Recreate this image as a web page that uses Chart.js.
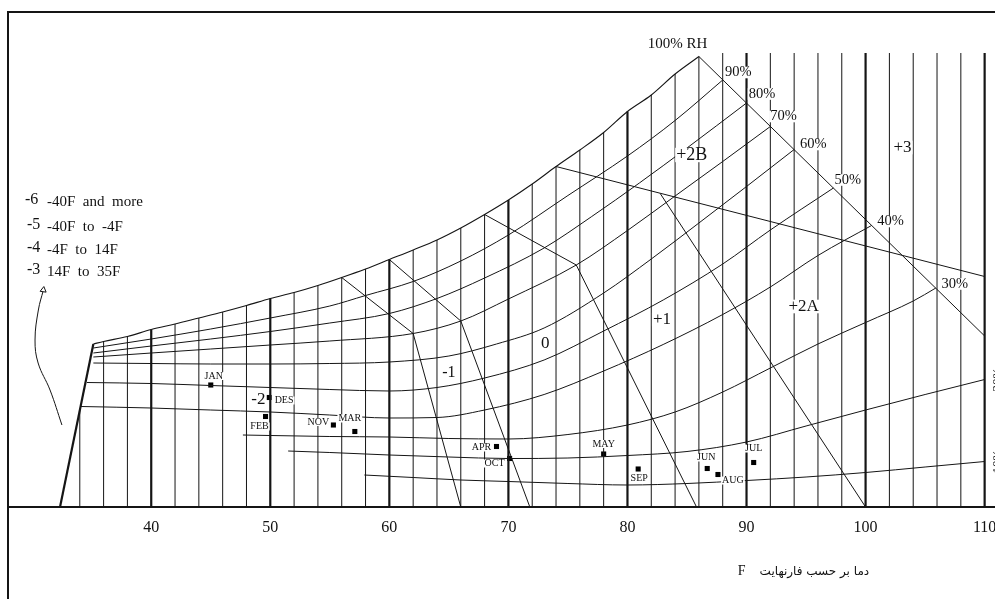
<!DOCTYPE html>
<html>
<head>
<meta charset="utf-8">
<script src="https://cdn.jsdelivr.net/npm/chart.js@4.4.1/dist/chart.umd.min.js"></script>
<style>
    html, body { margin: 0; padding: 0; background: #fff; overflow: hidden; }
    #wrap { width: 995px; height: 599px; overflow: hidden; }
</style>
</head>
<body>
<div id="wrap"><canvas id="bioChart" width="1020" height="599"></canvas></div>
<script>
// x = dry bulb temperature (F), y = moisture height in chart units
const tickTemps = [40, 50, 60, 70, 80, 90, 100, 110];

const gridTemps = [34, 36, 38, 40, 42, 44, 46, 48, 50, 52, 54, 56, 58, 60, 62, 64, 66, 68, 70,
    72, 74, 76, 78, 80, 82, 84, 86, 88, 90, 92, 94, 96, 98, 100, 102, 104, 106, 108, 110];
const gridTops = [19.3, 33.1, 34.1, 35.5, 36.6, 37.8, 39.0, 40.3, 41.7, 42.9, 44.3, 45.9, 47.6, 49.5,
    51.4, 53.4, 55.8, 58.5, 61.4, 64.6, 68.1, 71.4, 74.9, 79.1, 82.4, 86.6, 90.1,
    90.8, 90.8, 90.8, 90.8, 90.8, 90.8, 90.8, 90.8, 90.8, 90.8, 90.8, 90.8];

const rh100 = [[35.14, 32.6], [36, 33.1], [38, 34.1], [40, 35.5], [42, 36.6], [44, 37.8], [46, 39.0],
    [48, 40.3], [50, 41.7], [52, 42.9], [54, 44.3], [56, 45.9], [58, 47.6], [60, 49.5], [62, 51.4],
    [64, 53.4], [66, 55.8], [68, 58.5], [70, 61.4], [72, 64.6], [74, 68.1], [76, 71.4], [78, 74.9],
    [80, 79.1], [82, 82.4], [84, 86.6], [86, 90.1]];
const rh90 = [[35.14, 31.8], [40, 33.6], [45, 35.6], [50, 37.8], [55, 40.2], [58, 42.3], [62, 45.1],
    [66, 49.2], [70, 54.4], [75, 62.3], [80, 70.2], [84, 77.3], [88, 85.4]];
const rh80 = [[35.14, 30.8], [40, 32.2], [45, 33.6], [50, 35.1], [55, 36.8], [60, 38.7], [64, 41.7],
    [68, 45.8], [73, 51.8], [77, 58.1], [81, 64.8], [85, 71.8], [90, 80.8]];
const rh70 = [[35.14, 30.0], [40, 30.8], [45, 31.6], [50, 32.4], [55, 33.2], [62, 34.7], [66, 37.2],
    [70, 41.6], [75.7, 48.4], [80, 55.3], [84, 62.2], [88, 69.1], [92, 76.1]];
const rh60 = [[35.14, 28.8], [40, 28.7], [45, 28.6], [50, 28.6], [55, 28.7], [60, 29], [65, 30.2],
    [69, 32.6], [73, 35.8], [78, 42.8], [82, 49.6], [86, 56.8], [90, 64.1], [94, 71.5]];
const rh50 = [[34.6, 24.9], [40, 24.7], [45, 24.3], [50, 23.9], [55, 23.5], [60, 23.2], [64, 23.9],
    [68, 25.8], [73, 29.4], [78, 35.2], [83, 41.4], [88, 48.6], [92, 55.4], [97.3, 63.8]];
const rh40 = [[34.1, 20.1], [40, 19.8], [45, 19.4], [50, 19.0], [55, 18.4], [60, 17.8], [64, 17.9],
    [68, 19.4], [73, 22.5], [78, 27.2], [83, 32.5], [88, 38.5], [92, 44], [96, 50.3], [100.5, 56.3]];
const rh30 = [[47.7, 14.4], [50, 14.3], [55, 14.1], [60, 14], [65, 13.7], [70, 13.6], [75, 14.5],
    [80, 16.4], [84, 19], [88, 23], [92, 27.8], [96, 32.6], [100, 36.9], [104, 41.2], [105.9, 43.8]];
const rh20 = [[51.5, 11.2], [55, 10.9], [60, 10.4], [65, 10], [70, 9.7], [75, 9.8], [80, 10.3],
    [85, 11.1], [90, 13], [95, 16.2], [100, 19.4], [105, 22.5], [110, 25.5]];
const rh10 = [[57.9, 6.4], [62, 5.9], [66, 5.4], [70, 5.1], [75, 4.7], [80, 4.4], [85, 4.7],
    [90, 5.3], [95, 6], [100, 6.9], [105, 8], [110, 9.1]];

// zone boundaries
const zoneMinus1 = [[56, 45.9], [62, 34.7], [66, 0]];
const zoneZero = [[60, 49.5], [66, 37.2], [71.8, 0]];
const zonePlus1 = [[68, 58.5], [75.7, 48.4], [85.8, 0]];
const zonePlus2A = [[82.75, 62.7], [100, 0]];
const zonePlus2B = [[74, 68.1], [110, 46.1]];
const rhEdge = [[86, 90.1], [110, 34.2]];
const coldEdge = [[32.34, 0], [35.14, 32.6]];
const arrowPath = [[32.5, 16.4], [31.5, 23.4], [30.5, 28.8], [30.24, 33.4], [30.52, 39.4], [30.94, 43.4]];

const monthNames = ['JAN', 'FEB', 'MAR', 'APR', 'MAY', 'JUN', 'JUL', 'AUG', 'SEP', 'OCT', 'NOV', 'DES'];
const monthTemps = [45.0, 49.6, 57.1, 69.0, 78.0, 86.7, 90.6, 87.6, 80.9, 70.1, 55.3, 49.9];
const monthHum = [24.4, 18.1, 15.1, 12.1, 10.6, 7.7, 8.9, 6.5, 7.6, 9.7, 16.4, 21.9];

// label placement (pixel shift from the marker)
const monthShift = {
    JAN: [3, -9], DES: [15, 3], FEB: [-6, 10], NOV: [-15, -3], MAR: [-5, -13], APR: [-15, 1],
    OCT: [-15, 5], MAY: [0, -10], SEP: [1, 9], JUN: [-1, -11], AUG: [15, 6], JUL: [0, -14]
};

const serif = '"Liberation Serif", "Times New Roman", serif';
const ink = '#151515';

const notes = [
    { t: '100% RH', x: 84.2, y: 92.5, s: 15 },
    { t: '90%', x: 89.3, y: 86.9, s: 14.5 },
    { t: '80%', x: 91.3, y: 82.6, s: 14.5 },
    { t: '70%', x: 93.1, y: 78.1, s: 14.5 },
    { t: '60%', x: 95.6, y: 72.5, s: 14.5 },
    { t: '50%', x: 98.5, y: 65.4, s: 14.5 },
    { t: '40%', x: 102.1, y: 57.1, s: 14.5 },
    { t: '30%', x: 107.5, y: 44.6, s: 14.5 },
    { t: '+2B', x: 85.4, y: 70.4, s: 18 },
    { t: '+3', x: 103.1, y: 71.9, s: 17 },
    { t: '+2A', x: 94.8, y: 40.1, s: 17 },
    { t: '+1', x: 82.9, y: 37.5, s: 17 },
    { t: '0', x: 73.1, y: 32.7, s: 17 },
    { t: '-1', x: 65.0, y: 26.9, s: 16 },
    { t: '-2', x: 49.0, y: 21.4, s: 17 },
    { t: 'F', x: 89.6, y: -12.9, s: 14 },
    { t: 'دما بر حسب فارنهایت', x: 95.7, y: -13, s: 12, f: '"DejaVu Sans", sans-serif' }
];

const legendLines = [
    ['-6', '-40F  and  more', 25, 202],
    ['-5', '-40F  to  -4F', 27, 227],
    ['-4', '-4F  to  14F', 27, 250],
    ['-3', '14F  to  35F', 27, 272]
];

function toPoints(arr) {
    return arr.map(p => ({ x: p[0], y: p[1] }));
}

function path(arr, width, smooth) {
    return {
        data: toPoints(arr),
        showLine: true,
        borderColor: ink,
        borderWidth: width,
        pointRadius: 0,
        fill: false,
        tension: 0,
        cubicInterpolationMode: smooth ? 'monotone' : 'default'
    };
}

const datasets = [];

gridTemps.forEach((t, i) => {
    datasets.push(path([[t, 0], [t, gridTops[i]]], t % 10 === 0 ? 2.2 : 1, false));
});

datasets.push(path(rh100, 1.1, true));
[rh90, rh80, rh70, rh60, rh50, rh40, rh30, rh20, rh10].forEach(c => datasets.push(path(c, 1, true)));
[zoneMinus1, zoneZero, zonePlus1, zonePlus2A, zonePlus2B, rhEdge].forEach(z => datasets.push(path(z, 1, false)));
datasets.push(path(coldEdge, 2.2, false));

const arrow = path(arrowPath, 1, false);
arrow.tension = 0.4;
arrow.pointRadius = arrowPath.map((p, i) => i === arrowPath.length - 1 ? 3.5 : 0);
arrow.pointStyle = 'triangle';
arrow.pointRotation = 8;
arrow.pointBackgroundColor = '#fff';
arrow.pointBorderColor = ink;
arrow.pointBorderWidth = 1;
datasets.push(arrow);

datasets.push({
    data: monthTemps.map((t, i) => ({ x: t, y: monthHum[i] })),
    showLine: false,
    pointStyle: 'rect',
    pointRadius: 3.6,
    pointBackgroundColor: '#000',
    pointBorderColor: '#000',
    pointBorderWidth: 0
});

function boxedText(ctx, text, px, py, font, align) {
    ctx.font = font;
    ctx.textAlign = align || 'center';
    ctx.textBaseline = 'middle';
    const w = ctx.measureText(text).width;
    const h = parseFloat(font) * 0.8;
    let left = px - w / 2;
    if (align === 'left') left = px;
    ctx.fillStyle = '#fff';
    ctx.fillRect(left - 1, py - h / 2, w + 2, h);
    ctx.fillStyle = '#111';
    ctx.fillText(text, px, py);
}

const annotate = {
    id: 'annotate',
    afterDatasetsDraw(chart) {
        const { ctx, chartArea, scales } = chart;
        const x = scales.x, y = scales.y;
        ctx.save();

        ctx.strokeStyle = ink;
        ctx.lineWidth = 2;
        ctx.beginPath();
        ctx.moveTo(chartArea.left, chart.height);
        ctx.lineTo(chartArea.left, chartArea.top);
        ctx.lineTo(chartArea.right, chartArea.top);
        ctx.stroke();

        notes.forEach(n => {
            boxedText(ctx, n.t, x.getPixelForValue(n.x), y.getPixelForValue(n.y),
                n.s + 'px ' + (n.f || serif));
        });

        monthNames.forEach((m, i) => {
            const s = monthShift[m];
            boxedText(ctx, m, x.getPixelForValue(monthTemps[i]) + s[0],
                y.getPixelForValue(monthHum[i]) + s[1], '10px ' + serif);
        });

        legendLines.forEach(l => {
            ctx.fillStyle = '#111';
            ctx.textAlign = 'left';
            ctx.textBaseline = 'middle';
            ctx.font = '16px ' + serif;
            ctx.fillText(l[0], l[2], l[3] - 2);
            ctx.font = '15px ' + serif;
            ctx.fillText(l[1], 47, l[3]);
        });

        // cut-off RH labels on the right edge
        [['20%', rh20], ['10%', rh10]].forEach(([t, c]) => {
            const end = c[c.length - 1];
            ctx.save();
            ctx.translate(x.getPixelForValue(end[0]) + 13, y.getPixelForValue(end[1]));
            ctx.rotate(-Math.PI / 2);
            ctx.font = '13px ' + serif;
            ctx.textAlign = 'center';
            ctx.textBaseline = 'middle';
            ctx.fillStyle = '#111';
            ctx.fillText(t, 0, 0);
            ctx.restore();
        });

        ctx.restore();
    }
};

window.onload = function() {
    const ctx = document.getElementById('bioChart').getContext('2d');
    new Chart(ctx, {
        type: 'scatter',
        data: { datasets: datasets },
        options: {
            responsive: false,
            animation: false,
            events: [],
            layout: { padding: { left: 8, top: 12, right: 25, bottom: 0 } },
            plugins: { legend: { display: false }, tooltip: { enabled: false } },
            scales: {
                x: {
                    type: 'linear',
                    min: 27.97,
                    max: 110.87,
                    grid: { display: false, drawTicks: false },
                    border: { display: true, color: ink, width: 2 },
                    ticks: {
                        color: '#111',
                        padding: 11,
                        autoSkip: false,
                        maxRotation: 0,
                        font: { family: serif, size: 16 }
                    },
                    afterBuildTicks: function(scale) {
                        scale.ticks = tickTemps.map(v => ({ value: v }));
                    },
                    afterFit: function(scale) {
                        scale.height = 92;
                    }
                },
                y: { type: 'linear', min: 0, max: 99, display: false }
            }
        },
        plugins: [annotate]
    });
};
</script>
</body>
</html>
